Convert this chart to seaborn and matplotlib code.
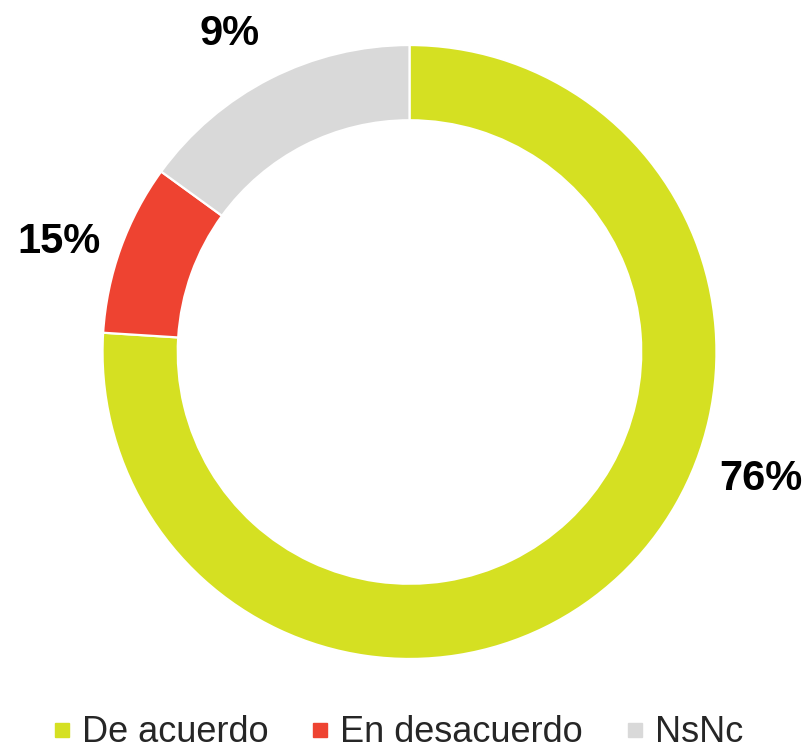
import matplotlib
matplotlib.use("Agg")
import matplotlib.pyplot as plt
from matplotlib.lines import Line2D
import seaborn as sns

categories = ["De acuerdo", "En desacuerdo", "NsNc"]
values = [76, 9, 15]
label_texts = ["76%", "15%", "9%"]
colors = ["#D5E022", "#EE4331", "#D9D9D9"]

# where the percentage labels sit (data units, ring radius = 1)
label_pos = [(1.145, -0.415), (-1.142, 0.359), (-0.586, 1.036)]

sns.set_theme(style="white")
plt.rcParams["font.family"] = ["Liberation Sans", "DejaVu Sans"]

fig = plt.figure(figsize=(8.1, 7.52), dpi=100)
ax = fig.add_axes([56.5 / 810, 47 / 752, 706 / 810, 706 / 752])

ax.pie(values, colors=colors, startangle=90, counterclock=False, radius=1,
       wedgeprops=dict(width=0.245, edgecolor="white", linewidth=1.6))

for txt, (x, y) in zip(label_texts, label_pos):
    ax.text(x, y, txt, ha="center", va="center", fontsize=30,
            fontweight="bold", color="black")

ax.set_xlim(-1.15, 1.15)
ax.set_ylim(-1.15, 1.15)
ax.set_aspect("equal")
ax.axis("off")

handles = [Line2D([0], [0], marker="s", linestyle="none", markersize=9.5,
                  markerfacecolor=c, markeredgecolor=c) for c in colors]
fig.legend(handles, categories, loc="center", bbox_to_anchor=(0.493, 19 / 752),
           ncol=3, frameon=False, fontsize=26, handlelength=0.35,
           handletextpad=0.38, columnspacing=1.25, borderpad=0, borderaxespad=0)

fig.savefig("out.png", dpi=100, facecolor="white")
